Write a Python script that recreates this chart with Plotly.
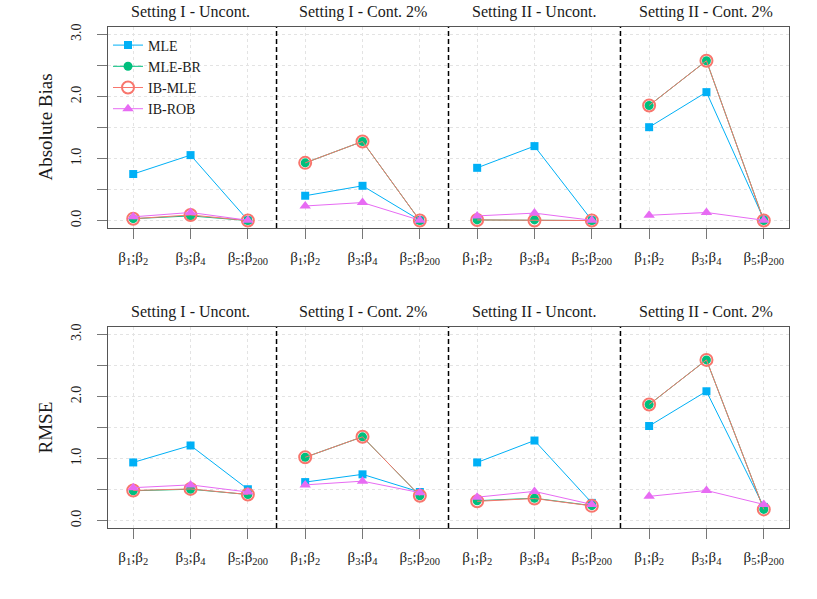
import plotly.graph_objects as go

x_pos = list(range(1, 13))
x_labels = ["β<sub>1</sub>;β<sub>2</sub>", "β<sub>3</sub>;β<sub>4</sub>", "β<sub>5</sub>;β<sub>200</sub>"] * 4
settings = ["Setting I - Uncont.", "Setting I - Cont. 2%", "Setting II - Uncont.", "Setting II - Cont. 2%"]
methods = ["MLE", "MLE-BR", "IB-MLE", "IB-ROB"]

bias_mle = [0.75, 1.055, 0.005, 0.40, 0.56, 0.005, 0.85, 1.20, 0.005, 1.505, 2.07, 0.02]
bias_mlebr = [0.03, 0.075, 0.0, 0.93, 1.275, 0.0, 0.01, 0.01, 0.0, 1.855, 2.576, 0.0]
bias_ibmle = [0.03, 0.09, 0.0, 0.93, 1.275, 0.0, 0.01, 0.0, 0.0, 1.855, 2.576, 0.0]
bias_ibrob = [0.06, 0.13, 0.005, 0.235, 0.29, 0.005, 0.075, 0.12, 0.005, 0.085, 0.13, 0.005]

rmse_mle = [0.937, 1.21, 0.505, 0.62, 0.745, 0.46, 0.937, 1.29, 0.285, 1.524, 2.084, 0.22]
rmse_mlebr = [0.48, 0.505, 0.42, 1.02, 1.35, 0.40, 0.32, 0.36, 0.24, 1.87, 2.59, 0.18]
rmse_ibmle = [0.485, 0.51, 0.42, 1.02, 1.35, 0.40, 0.31, 0.355, 0.237, 1.87, 2.59, 0.18]
rmse_ibrob = [0.53, 0.575, 0.46, 0.575, 0.635, 0.45, 0.377, 0.47, 0.26, 0.39, 0.485, 0.26]

colors = ["#00B0F6", "#00BF7D", "#F8766D", "#E76BF3"]
markers = [
    dict(symbol="square", size=8),
    dict(symbol="circle", size=9),
    dict(symbol="circle-open", size=12, line=dict(width=2)),
    dict(symbol="triangle-up", size=10),
]

FONT = "Liberation Serif"
TXT = "#1a1a1a"


def with_gaps(xs, ys, group=3):
    gx, gy = [], []
    for i in range(0, len(xs), group):
        gx += xs[i:i + group] + [None]
        gy += ys[i:i + group] + [None]
    return gx, gy


fig = go.Figure()
panels = [
    ("x", "y", [bias_mle, bias_mlebr, bias_ibmle, bias_ibrob], True),
    ("x2", "y2", [rmse_mle, rmse_mlebr, rmse_ibmle, rmse_ibrob], False),
]
for xa, ya, series, show in panels:
    for m, vals, c, mk in zip(methods, series, colors, markers):
        gx, gy = with_gaps(x_pos, vals)
        fig.add_trace(go.Scatter(
            x=gx, y=gy, mode="lines+markers", name=m,
            line=dict(color=c, width=1), marker=dict(mk, color=c),
            connectgaps=False,
            xaxis=xa, yaxis=ya, showlegend=show, legendgroup=m,
        ))

axis_common = dict(
    showline=True, mirror=True, linecolor="#555555", linewidth=1,
    ticks="outside", ticklen=10, tickcolor="#777777", tickwidth=1,
    showgrid=True, gridcolor="#e3e3e3", griddash="dot", gridwidth=1,
    zeroline=False,
)
xaxis = dict(axis_common, range=[0.56, 12.44], tickvals=x_pos, ticktext=x_labels,
             ticklabelstandoff=5, tickfont=dict(family=FONT, size=15, color=TXT))
yvals = [0, 0.5, 1.0, 1.5, 2.0, 2.5, 3.0]
ytext = ["0.0", "", "1.0", "", "2.0", "", "3.0"]
yaxis = dict(axis_common, range=[-0.12, 3.12], tickvals=yvals, ticktext=ytext,
             tickangle=-90, ticklabelstandoff=10,
             tickfont=dict(family=FONT, size=14, color=TXT))

top_dom = [1 - 201 / 501, 1]
bot_dom = [0, 201 / 501]
fig.update_layout(
    width=817, height=599,
    margin=dict(l=108, r=28, t=27, b=71),
    paper_bgcolor="white", plot_bgcolor="white",
    font=dict(family=FONT, size=14, color=TXT),
    xaxis=dict(xaxis, anchor="y"),
    yaxis=dict(yaxis, domain=top_dom, anchor="x"),
    xaxis2=dict(xaxis, anchor="y2"),
    yaxis2=dict(yaxis, domain=bot_dom, anchor="x2"),
    legend=dict(x=0.0, y=0.995, xanchor="left", yanchor="top",
                bgcolor="rgba(0,0,0,0)", font=dict(family=FONT, size=14, color=TXT),
                tracegroupgap=0, itemwidth=30),
)

for xa in ["x", "x2"]:
    for xv in [3.5, 6.5, 9.5]:
        fig.add_shape(type="line", xref=xa, yref=("y domain" if xa == "x" else "y2 domain"),
                      x0=xv, x1=xv, y0=0, y1=1,
                      line=dict(color="black", width=1.5, dash="5px,3px"))

centers = [2, 5, 8, 11]
for xa, dom in [("x", top_dom), ("x2", bot_dom)]:
    for cx, s in zip(centers, settings):
        fig.add_annotation(x=cx, xref=xa, y=dom[1], yref="paper", yshift=15,
                           text=s, showarrow=False, xanchor="center", yanchor="middle",
                           font=dict(family=FONT, size=16, color=TXT))

for label, dom in [("Absolute Bias", top_dom), ("RMSE", bot_dom)]:
    fig.add_annotation(x=0, xref="paper", y=sum(dom) / 2, yref="paper", xshift=-63,
                       text=label, textangle=-90, showarrow=False,
                       xanchor="center", yanchor="middle",
                       font=dict(family=FONT, size=19, color=TXT))

fig.write_html("out.html", config={"displayModeBar": False},
               post_script="document.body.style.margin='0';document.body.style.overflow='hidden';")
